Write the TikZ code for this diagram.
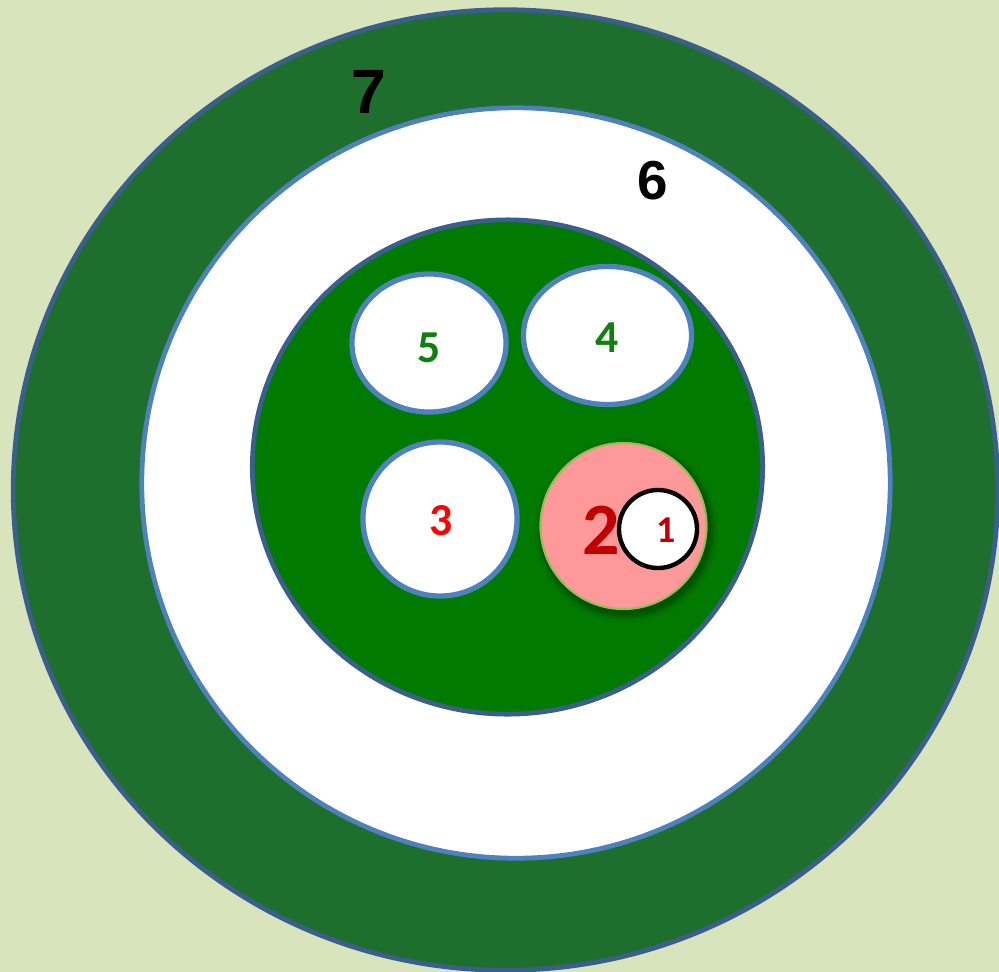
\documentclass[tikz,border=0pt]{standalone}
\usepackage{fontspec}
\newfontfamily\arialfont{Liberation Sans}
\newfontfamily\calibrifont{Carlito}
\usetikzlibrary{shapes.geometric}
\definecolor{bgc}{HTML}{D8E4BC}
\definecolor{darkring}{HTML}{1E6E2E}
\definecolor{navyline}{HTML}{3B5E8C}
\definecolor{blueline}{HTML}{4F81BD}
\definecolor{midgreen}{HTML}{007A00}
\definecolor{pinkfill}{HTML}{FF9999}
\definecolor{olivline}{HTML}{9BBB59}
\definecolor{darkred}{HTML}{C00000}
\definecolor{txtgreen}{HTML}{0F7F0F}
\begin{document}
\begin{tikzpicture}[x=0.01cm,y=-0.01cm,
  ring/.style={ellipse, inner sep=0pt, line width=1.35pt},
  bubble/.style={ellipse, inner sep=0pt, line width=1.5pt, draw=blueline, fill=white},
  numfont/.style={inner sep=0pt, font=\calibrifont\bfseries\fontsize{13}{15}\selectfont},
  biglabel/.style={inner sep=0pt, font=\arialfont\bfseries}]
\fill[bgc] (0,0) rectangle (999,972);
\useasboundingbox (0,0) rectangle (999,972);
% ring 7
\node[ring, fill=darkring, draw=navyline, minimum width=9.84cm, minimum height=9.6cm] (r7) at (505.5,490) {};
% ring 6
\node[ring, fill=white, draw=blueline, minimum width=7.48cm, minimum height=7.5cm] (r6) at (516,483) {};
% green circle
\node[ring, fill=midgreen, draw=navyline, minimum width=5.1cm, minimum height=4.94cm] (g) at (507.5,467) {};
% labels 7 and 6
\node[biglabel, font=\arialfont\bfseries\fontsize{17.8}{20}\selectfont] (l7) at (369,92) {7};
\node[biglabel, font=\arialfont\bfseries\fontsize{15.6}{18}\selectfont] (l6) at (653,181) {6};
% bubbles
\node[bubble, minimum width=1.54cm, minimum height=1.38cm] (b5) at (429,343) {};
\node[numfont, text=txtgreen] (t5) at (429,348) {5};
\node[bubble, minimum width=1.68cm, minimum height=1.38cm] (b4) at (607.5,335.5) {};
\node[numfont, text=txtgreen] (t4) at (607,338) {4};
\node[bubble, minimum width=1.54cm, minimum height=1.54cm] (b3) at (440,519) {};
\node[numfont, text=red] (t3) at (441,521) {3};
% soft shadow of circle 2
\foreach \r/\o in {92/0.05,89/0.07,87/0.09,85/0.12}{
  \fill[black, opacity=\o] (626,530) circle (\r);
}
% pink circle 2
\node[ellipse, inner sep=0pt, minimum width=1.66cm, minimum height=1.66cm, fill=pinkfill, draw=olivline, line width=0.6pt] (b2) at (623.5,526) {};
\node[text=darkred, inner sep=0pt, font=\calibrifont\bfseries\fontsize{21}{24}\selectfont] (t2) at (601,530) {2};
% circle 1
\node[ellipse, inner sep=0pt, minimum width=0.78cm, minimum height=0.78cm, fill=white, draw=black, line width=1.25pt] (b1) at (658,529) {};
\node[text=darkred, inner sep=0pt, font=\calibrifont\bfseries\fontsize{10.8}{12}\selectfont] (t1) at (666,530) {1};
\end{tikzpicture}
\end{document}
